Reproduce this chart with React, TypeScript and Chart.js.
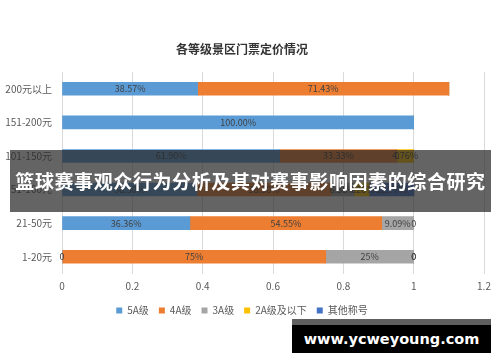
import React, { useEffect, useRef } from "react";
import { Chart, registerables } from "chart.js";

Chart.register(...registerables);

const categories = ["200元以上", "151-200元", "101-150元", "51-100元", "21-50元", "1-20元"];
const seriesNames = ["5A级", "4A级", "3A级", "2A级及以下", "其他称号"];
const colors = ["#5B9BD5", "#ED7D31", "#A5A5A5", "#FFC000", "#4472C4"];

const v5A = [0.3857, 1.0, 0.619, 0.383, 0.3636, 0];
const v4A = [0.7143, 0, 0.3333, 0.383, 0.5455, 0.75];
const v3A = [0, 0, 0, 0.064, 0.0909, 0.25];
const v2A = [0, 0, 0.0476, 0.043, 0, 0];
const vOther = [0, 0, 0, 0.128, 0, 0];

const l5A = ["38.57%", "100.00%", "61.90%", "38.30%", "36.36%", "0"];
const l4A = ["71.43%", "", "33.33%", "38.30%", "54.55%", "75%"];
const l3A = ["", "", "0", "6.38%", "9.09%", "25%"];
const l2A = ["", "", "4.76%", "4.26%", "0", "0"];
const lOther = ["", "", "", "12.77%", "", "0"];

const seriesValues = [v5A, v4A, v3A, v2A, vOther];
const seriesLabels = [l5A, l4A, l3A, l2A, lOther];

const titleText = "各等级景区门票定价情况";
const bannerText = "篮球赛事观众行为分析及其对赛事影响因素的综合研究";
const urlText = "www.ycweyoung.com";

const FONT = '"Noto Sans CJK SC", "Noto Sans", sans-serif';

const segLabels = {
  id: "segLabels",
  afterDatasetsDraw(chart: any) {
    const ctx = chart.ctx;
    ctx.save();
    ctx.font = `9px ${FONT}`;
    ctx.fillStyle = "#404040";
    ctx.textAlign = "center";
    ctx.textBaseline = "middle";
    chart.data.datasets.forEach((_ds: any, di: number) => {
      const meta = chart.getDatasetMeta(di);
      meta.data.forEach((el: any, i: number) => {
        const t = seriesLabels[di][i];
        if (!t) return;
        const p = el.getProps(["x", "base", "y"], true);
        ctx.fillText(t, (p.x + p.base) / 2, p.y);
      });
    });
    ctx.restore();
  },
};

export default function App() {
  const ref = useRef<HTMLCanvasElement | null>(null);

  useEffect(() => {
    if (!ref.current) return;
    const chart = new Chart(ref.current, {
      type: "bar",
      data: {
        labels: categories,
        datasets: seriesNames.map((name, i) => ({
          label: name,
          data: seriesValues[i],
          backgroundColor: colors[i],
          borderWidth: 0,
          barThickness: 13,
        })),
      },
      options: {
        indexAxis: "y",
        responsive: false,
        animation: false,
        layout: { padding: { left: 0, right: 16, top: 0, bottom: 36.5 } },
        scales: {
          x: {
            stacked: true,
            min: 0,
            max: 1.2,
            ticks: {
              stepSize: 0.2,
              padding: 7,
              color: "#595959",
              font: { family: FONT, size: 10 },
              callback: (v: any) => String(+Number(v).toFixed(1)),
            },
            grid: { color: "#d9d9d9", drawTicks: false },
            border: { display: false },
            afterFit: (s: any) => {
              s.height = 22;
            },
          },
          y: {
            stacked: true,
            ticks: {
              padding: 10,
              color: "#595959",
              font: { family: FONT, size: 10 },
            },
            grid: { display: false, drawTicks: false },
            border: { display: false },
            afterFit: (s: any) => {
              s.width = 62;
            },
          },
        },
        plugins: {
          title: {
            display: true,
            text: titleText,
            color: "#333333",
            font: { family: FONT, size: 12, weight: "bold" },
            padding: { top: 42, bottom: 15.6 },
          },
          legend: {
            position: "bottom",
            labels: {
              boxWidth: 6,
              boxHeight: 6,
              padding: 10,
              color: "#595959",
              font: { family: FONT, size: 10 },
            },
          },
          tooltip: { enabled: false },
        },
      },
      plugins: [segLabels],
    } as any);
    return () => chart.destroy();
  }, []);

  return (
    <div
      style={{
        position: "fixed",
        left: 0,
        top: 0,
        width: 500,
        height: 362,
        background: "#fff",
        overflow: "hidden",
      }}
    >
      <canvas ref={ref} width={500} height={362} style={{ position: "absolute", left: 0, top: 0 }} />
      <div
        style={{
          position: "absolute",
          left: 10,
          top: 150,
          width: 481,
          height: 62,
          background: "rgba(40,40,40,0.72)",
          color: "#fff",
          fontFamily: FONT,
          fontWeight: "bold",
          fontSize: 19,
          letterSpacing: "0.6px",
          lineHeight: "62px",
          textAlign: "center",
          whiteSpace: "nowrap",
        }}
      >
        {bannerText}
      </div>
      <div
        style={{
          position: "absolute",
          left: 292,
          top: 319,
          width: 199,
          height: 34,
          background: "#000",
          borderTop: "6px solid #5f5f5f",
          boxSizing: "border-box",
          color: "#fff",
          fontFamily: '"DejaVu Sans", sans-serif',
          fontWeight: "bold",
          fontSize: 14.5,
          lineHeight: "28px",
          textAlign: "center",
          whiteSpace: "nowrap",
        }}
      >
        {urlText}
      </div>
    </div>
  );
}
